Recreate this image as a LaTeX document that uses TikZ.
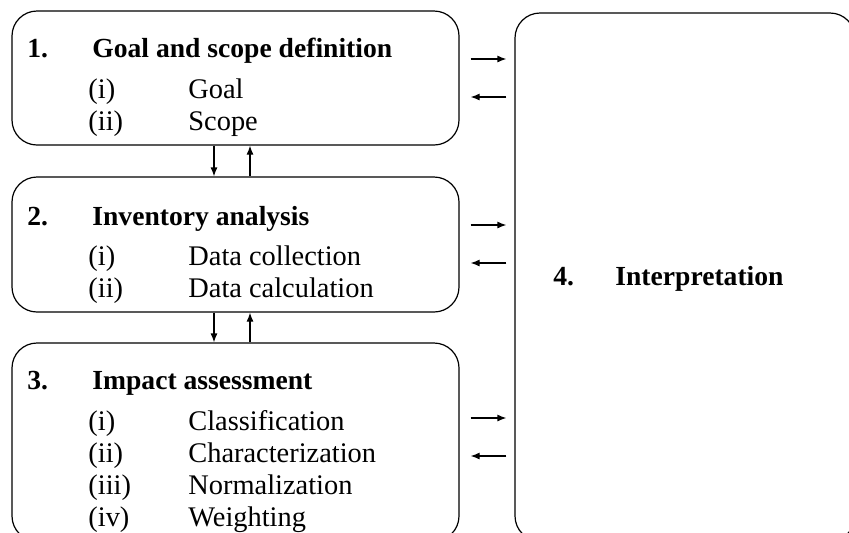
\documentclass[tikz,border=0pt]{standalone}
\usepackage{fontspec}
\setmainfont{Liberation Serif}
\usetikzlibrary{arrows.meta}
\begin{document}
\begin{tikzpicture}[x=0.5pt,y=-0.5pt,
  box/.style={draw=black, line width=0.6pt, rounded corners=12.5pt, inner sep=0pt, rectangle},
  arr/.style={draw=black, line width=0.6pt, -{Latex[length=4.5pt,width=3.5pt]}},
  txt/.style={anchor=base west, inner sep=0pt, font=\fontsize{14.2}{16}\selectfont},
  btxt/.style={txt, font=\fontsize{13.8}{16}\selectfont\bfseries}]
\useasboundingbox (0,0) rectangle (849,532);
\clip (0,0) rectangle (849,532);
% boxes
\node[box, minimum width=223.5pt, minimum height=67pt] (b1) at (235.5,78) {};
\node[box, minimum width=223.5pt, minimum height=67.5pt] (b2) at (235.5,244.5) {};
\node[box, minimum width=223.5pt, minimum height=99pt] (b3) at (235.5,442) {};
\node[box, minimum width=170pt, minimum height=264pt] (b4) at (685,277) {};
% box 1 text
\node[btxt] (n1) at (27,57) {1.};
\node[btxt] (t1) at (92,57) {Goal and scope definition};
\node[txt] (i1a) at (88,98) {(i)};
\node[txt] (l1a) at (188,98) {Goal};
\node[txt] (i1b) at (88,130) {(ii)};
\node[txt] (l1b) at (188,130) {Scope};
% box 2 text
\node[btxt] (n2) at (27,225) {2.};
\node[btxt] (t2) at (92,225) {Inventory analysis};
\node[txt] (i2a) at (88,265) {(i)};
\node[txt] (l2a) at (188,265) {Data collection};
\node[txt] (i2b) at (88,297) {(ii)};
\node[txt] (l2b) at (188,297) {Data calculation};
% box 3 text
\node[btxt] (n3) at (27,389) {3.};
\node[btxt] (t3) at (92,389) {Impact assessment};
\node[txt] (i3a) at (88,430) {(i)};
\node[txt] (l3a) at (188,430) {Classification};
\node[txt] (i3b) at (88,462) {(ii)};
\node[txt] (l3b) at (188,462) {Characterization};
\node[txt] (i3c) at (88,494) {(iii)};
\node[txt] (l3c) at (188,494) {Normalization};
\node[txt] (i3d) at (88,526) {(iv)};
\node[txt] (l3d) at (188,526) {Weighting};
% box 4 text
\node[btxt] (n4) at (553,285) {4.};
\node[btxt] (t4) at (615,285) {Interpretation};
% vertical arrows
\draw[arr] ([xshift=-10.75pt]b1.south) -- ([xshift=-10.75pt]b2.north);
\draw[arr] ([xshift=7.25pt]b2.north) -- ([xshift=7.25pt]b1.south);
\draw[arr] ([xshift=-10.75pt]b2.south) -- ([xshift=-10.75pt]b3.north);
\draw[arr] ([xshift=7.25pt]b3.north) -- ([xshift=7.25pt]b2.south);
% horizontal arrows
\draw[arr, shorten <=5.5pt, shorten >=4pt] ([yshift=9.5pt]b1.east) -- ([yshift=9.5pt]b1.east -| b4.west);
\draw[arr, shorten <=4pt, shorten >=5.5pt] ([yshift=-9.5pt]b1.east -| b4.west) -- ([yshift=-9.5pt]b1.east);
\draw[arr, shorten <=5.5pt, shorten >=4pt] ([yshift=9.75pt]b2.east) -- ([yshift=9.75pt]b2.east -| b4.west);
\draw[arr, shorten <=4pt, shorten >=5.5pt] ([yshift=-9.25pt]b2.east -| b4.west) -- ([yshift=-9.25pt]b2.east);
\draw[arr, shorten <=5.5pt, shorten >=4pt] ([yshift=12pt]b3.east) -- ([yshift=12pt]b3.east -| b4.west);
\draw[arr, shorten <=4pt, shorten >=5.5pt] ([yshift=-7pt]b3.east -| b4.west) -- ([yshift=-7pt]b3.east);
\end{tikzpicture}
\end{document}
